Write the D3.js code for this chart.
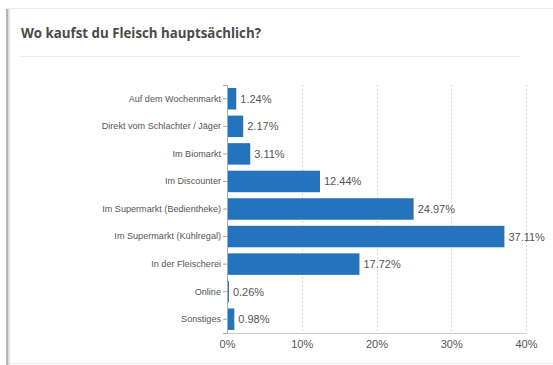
<!DOCTYPE html>
<html>
<head>
<meta charset="utf-8">
<script src="https://cdn.jsdelivr.net/npm/d3@7"></script>
<style>
  html, body { margin: 0; padding: 0; background: #fff; }
  svg { display: block; }
</style>
</head>
<body>
<svg id="chart" width="553" height="365"></svg>
<script>
const categories = [
  "Auf dem Wochenmarkt",
  "Direkt vom Schlachter / Jäger",
  "Im Biomarkt",
  "Im Discounter",
  "Im Supermarkt (Bedientheke)",
  "Im Supermarkt (Kühlregal)",
  "In der Fleischerei",
  "Online",
  "Sonstiges"
];
const shares = [1.24, 2.17, 3.11, 12.44, 24.97, 37.11, 17.72, 0.26, 0.98];
const xTicks = [0, 10, 20, 30, 40];
const title = "Wo kaufst du Fleisch hauptsächlich?";

const svg = d3.select("#chart");
const font = "'Helvetica Neue', 'Liberation Sans', Arial, sans-serif";

// Card frame
svg.append("line").attr("x1", 7).attr("x2", 553).attr("y1", 8.5).attr("y2", 8.5)
  .attr("stroke", "#ececec").attr("stroke-width", 1);
svg.append("rect").attr("x", 6).attr("y", 9).attr("width", 2.5).attr("height", 356)
  .attr("fill", "#b5b5b5");
svg.append("rect").attr("x", 8.5).attr("y", 9).attr("width", 1.5).attr("height", 356)
  .attr("fill", "#e2e2e2");
svg.append("line").attr("x1", 10).attr("x2", 553).attr("y1", 363.5).attr("y2", 363.5)
  .attr("stroke", "#ececec");

svg.append("text").attr("x", 21).attr("y", 38)
  .attr("font-family", "'Open Sans', 'Noto Sans', sans-serif")
  .attr("font-weight", 700).attr("font-size", 13.3).attr("fill", "#4a4a4a")
  .text(title);
svg.append("line").attr("x1", 20).attr("x2", 520).attr("y1", 56.5).attr("y2", 56.5)
  .attr("stroke", "#ececec");

const x = d3.scaleLinear().domain([0, 40]).range([227, 526]);
const y = d3.scaleBand().domain(categories).range([85, 333]).paddingInner(0.22).paddingOuter(0.11);

// Grid lines
svg.append("g").selectAll("line").data(xTicks.filter(d => d > 0)).join("line")
  .attr("x1", d => Math.round(x(d)) + 0.5).attr("x2", d => Math.round(x(d)) + 0.5)
  .attr("y1", 85).attr("y2", 333)
  .attr("stroke", "#d8d8d8").attr("stroke-dasharray", "2,2");

// Bars
svg.append("g").selectAll("rect").data(categories).join("rect")
  .attr("x", x(0)).attr("y", d => y(d))
  .attr("width", (d, i) => x(shares[i]) - x(0))
  .attr("height", y.bandwidth())
  .attr("fill", "#2473bd");

// Value labels
svg.append("g").selectAll("text").data(categories).join("text")
  .attr("x", (d, i) => x(shares[i]) + 4)
  .attr("y", d => y(d) + y.bandwidth() / 2)
  .attr("dy", "0.36em")
  .attr("font-family", font).attr("font-size", 11).attr("fill", "#555")
  .text((d, i) => shares[i].toFixed(2) + "%");

// Y axis
const yAxis = svg.append("g").attr("transform", "translate(227,0)")
  .call(d3.axisLeft(y).tickSize(4).tickPadding(2));
yAxis.select(".domain").attr("stroke", "#aaa");
yAxis.selectAll(".tick line").attr("stroke", "#aaa");
yAxis.selectAll(".tick text").attr("font-family", font).attr("font-size", 9.1).attr("fill", "#555");

// X axis
const xAxis = svg.append("g").attr("transform", "translate(0,333)")
  .call(d3.axisBottom(x).tickValues(xTicks).tickFormat(d => d + "%").tickSize(0).tickPadding(7));
xAxis.select(".domain").attr("stroke", "#ccc");
xAxis.selectAll(".tick text").attr("font-family", font).attr("font-size", 11).attr("fill", "#555");
</script>
</body>
</html>
